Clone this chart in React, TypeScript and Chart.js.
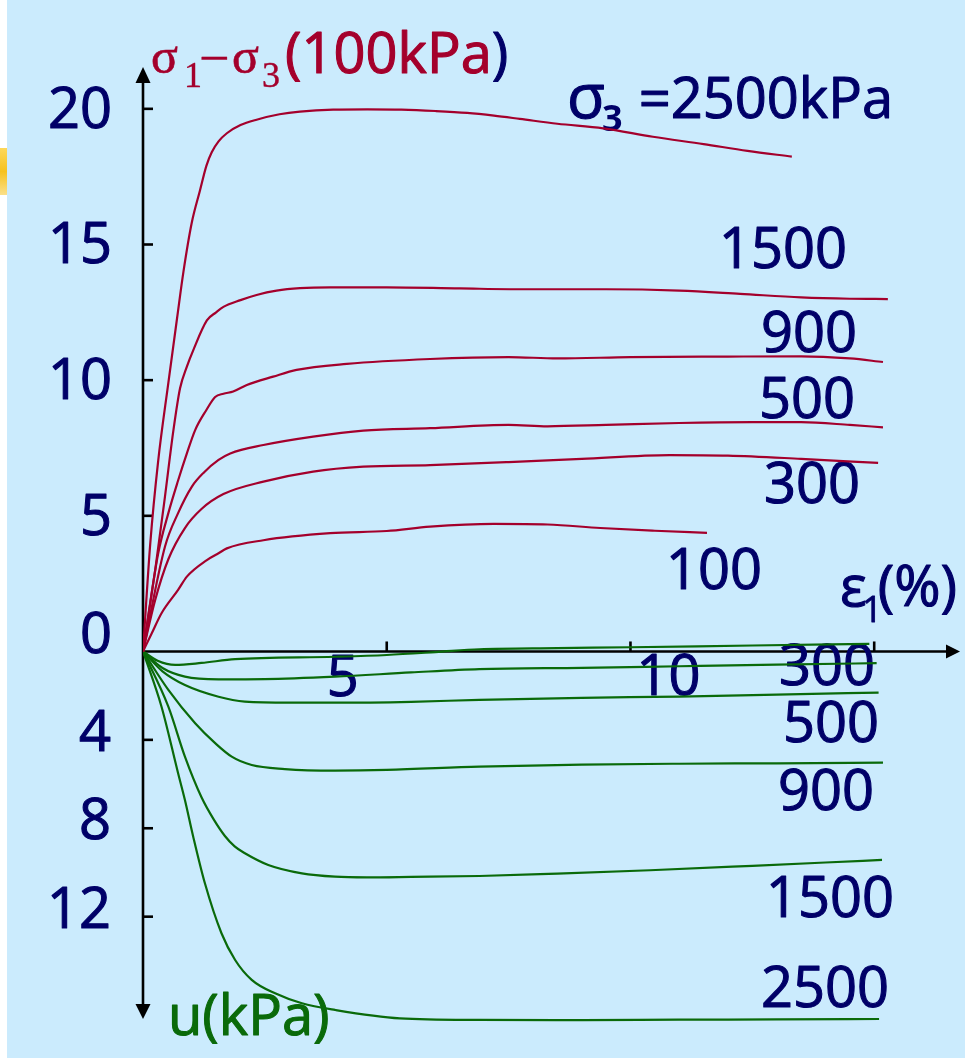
import React, { useEffect, useRef } from "react";
import { Chart, registerables } from "chart.js";

Chart.register(...registerables);

type P = [number, number];

// axis ticks
const strainTicks = [5, 10, 15];
const stressTicks = [20, 15, 10, 5];
const poreTicks = [4, 8, 12];
const strainTickLabels = ["5", "10"];
const stressTickLabels = ["20", "15", "10", "5"];
const poreTickLabels = ["4", "8", "12"];
const upperLabels = ["1500", "900", "500", "300", "100"];
const lowerLabels = ["300", "500", "900", "1500", "2500"];

// deviator stress σ1−σ3 (100 kPa) vs axial strain ε1 (%)
const dev2500: P[] = [[0,0],[0.15,4.0],[0.31,7.0],[0.52,9.9],[0.7,12.3],[0.83,14.0],[1.0,15.8],[1.17,17.0],[1.3,17.9],[1.41,18.4],[1.55,18.8],[1.72,19.1],[2.0,19.4],[2.33,19.6],[2.8,19.8],[3.22,19.9],[3.9,19.97],[4.6,19.98],[5.3,19.97],[6.0,19.92],[6.65,19.85],[7.2,19.75],[7.73,19.63],[8.5,19.45],[9.44,19.28],[10.46,18.97],[11.5,18.7],[12.4,18.45],[13.31,18.24]];
const dev1500: P[] = [[0,0],[0.25,3.0],[0.45,5.7],[0.62,8.1],[0.76,9.7],[0.9,10.5],[1.03,11.1],[1.31,12.2],[1.5,12.5],[1.65,12.7],[2.0,12.95],[2.33,13.14],[2.74,13.3],[3.22,13.39],[3.84,13.42],[5.0,13.42],[6.5,13.38],[8.0,13.35],[9.5,13.35],[11.0,13.3],[12.25,13.18],[13.5,13.05],[14.5,13.0],[15.28,12.99]];
const dev900: P[] = [[0,0],[0.31,3.6],[0.52,5.1],[0.72,6.3],[0.9,7.3],[1.07,8.16],[1.3,8.9],[1.48,9.38],[1.65,9.5],[1.85,9.58],[2.13,9.82],[2.67,10.13],[3.15,10.38],[4.18,10.6],[5.89,10.78],[7.5,10.85],[8.5,10.8],[10.0,10.85],[12.0,10.87],[13.5,10.88],[14.5,10.8],[15.18,10.67]];
const dev500: P[] = [[0,0],[0.45,3.86],[0.72,5.1],[1.0,6.07],[1.25,6.6],[1.55,7.06],[1.79,7.3],[2.47,7.61],[3.49,7.92],[4.52,8.14],[5.89,8.23],[7.5,8.35],[8.3,8.3],[9.5,8.35],[11.0,8.42],[12.5,8.45],[13.5,8.45],[14.5,8.35],[15.18,8.26]];
const dev300: P[] = [[0,0],[0.25,1.9],[0.52,3.4],[0.86,4.55],[1.2,5.25],[1.65,5.8],[2.47,6.26],[3.49,6.63],[4.52,6.81],[5.89,6.87],[7.5,6.98],[9.0,7.1],[10.8,7.24],[12.0,7.22],[13.5,7.1],[15.08,6.95]];
const dev100: P[] = [[0,0],[0.18,0.67],[0.38,1.41],[0.72,2.27],[0.9,2.76],[1.31,3.37],[1.55,3.62],[1.72,3.8],[2.47,4.1],[3.84,4.36],[5.0,4.44],[5.89,4.6],[7.2,4.7],[8.3,4.68],[9.38,4.55],[10.5,4.45],[11.57,4.37]];

// pore pressure u vs axial strain ε1 (%)
const pore100: P[] = [[0,0],[0.3,0.42],[0.66,0.61],[1.2,0.52],[1.89,0.35],[3.94,0.24],[5.0,0.16],[6.0,0.03],[6.9,-0.1],[8.5,-0.15],[10.0,-0.19],[12.5,-0.27],[14.9,-0.34]];
const pore300: P[] = [[0,0],[0.4,0.75],[0.86,1.14],[1.55,1.26],[2.5,1.25],[3.94,1.14],[5.5,0.95],[6.9,0.8],[9.0,0.74],[11.0,0.67],[13.0,0.6],[15.05,0.53]];
const pore500: P[] = [[0,0],[0.4,0.9],[0.86,1.52],[1.55,2.05],[2.09,2.27],[3.0,2.32],[3.94,2.32],[5.5,2.28],[6.9,2.19],[9.0,2.1],[11.0,2.04],[13.0,1.95],[15.09,1.86]];
const pore900: P[] = [[0,0],[0.52,1.74],[1.07,3.25],[1.48,4.15],[1.82,4.76],[2.23,5.14],[2.91,5.32],[3.94,5.39],[5.0,5.36],[6.9,5.21],[9.0,5.12],[11.0,5.08],[13.0,5.06],[15.18,5.03]];
const pore1500: P[] = [[0,0],[0.52,2.5],[0.86,4.76],[1.2,6.6],[1.45,7.6],[1.68,8.35],[1.88,8.82],[2.09,9.13],[2.57,9.66],[3.26,10.04],[3.94,10.19],[4.59,10.22],[5.5,10.2],[6.9,10.16],[8.5,10.05],[10.4,9.9],[12.5,9.7],[14.0,9.55],[15.16,9.43]];
const pore2500: P[] = [[0,0],[0.38,2.5],[0.72,5.51],[0.86,6.72],[1.03,8.38],[1.27,10.49],[1.61,12.75],[1.89,13.96],[2.23,14.86],[2.71,15.47],[3.26,15.92],[3.94,16.22],[5.27,16.6],[6.9,16.67],[9.0,16.68],[11.0,16.66],[13.0,16.65],[15.1,16.63]];

const RED = "#a4002c";
const GREEN = "#0a6a0a";
const NAVY = "#000068";
const SANS = "'Open Sans', 'DejaVu Sans', sans-serif";
const SERIF = "'Liberation Serif', 'DejaVu Serif', serif";

const toXY = (arr: P[]) => arr.map(([x, y]) => ({ x, y }));

const drawPlugin = {
  id: "triaxialDecor",
  beforeDraw(chart: any) {
    const ctx = chart.ctx as CanvasRenderingContext2D;
    ctx.save();
    ctx.fillStyle = "#ffffff";
    ctx.fillRect(0, 0, chart.width, chart.height);
    ctx.fillStyle = "#cbebfd";
    ctx.fillRect(7, 0, chart.width - 7, 1058);
    const g = ctx.createLinearGradient(0, 148, 0, 195);
    g.addColorStop(0, "#fdd85a");
    g.addColorStop(0.5, "#f6c21e");
    g.addColorStop(1, "#fbe08a");
    ctx.fillStyle = g;
    ctx.fillRect(0, 148, 7, 47);
    ctx.restore();
  },
  beforeDatasetsDraw(chart: any) {
    const ctx = chart.ctx as CanvasRenderingContext2D;
    const sx = chart.scales.x;
    const sy = chart.scales.y;
    const su = chart.scales.yu;
    const x0 = sx.getPixelForValue(0);
    const y0 = sy.getPixelForValue(0);
    ctx.save();
    ctx.strokeStyle = "#000";
    ctx.fillStyle = "#000";
    ctx.lineWidth = 2.6;
    const line = (a: number, b: number, c: number, d: number) => {
      ctx.beginPath();
      ctx.moveTo(a, b);
      ctx.lineTo(c, d);
      ctx.stroke();
    };
    const tri = (pts: number[][]) => {
      ctx.beginPath();
      ctx.moveTo(pts[0][0], pts[0][1]);
      ctx.lineTo(pts[1][0], pts[1][1]);
      ctx.lineTo(pts[2][0], pts[2][1]);
      ctx.closePath();
      ctx.fill();
    };
    // axes
    line(x0, 80, x0, 1006);
    line(x0, y0, 948, y0);
    tri([[x0, 67], [x0 - 7.5, 83], [x0 + 7.5, 83]]);
    tri([[x0, 1019], [x0 - 7.5, 1004], [x0 + 7.5, 1004]]);
    tri([[960, y0], [946, y0 - 7], [946, y0 + 7]]);
    // ticks
    stressTicks.forEach((v) => {
      const p = sy.getPixelForValue(v);
      line(x0, p, x0 + 10, p);
    });
    poreTicks.forEach((v) => {
      const p = su.getPixelForValue(v);
      line(x0, p, x0 + 10, p);
    });
    strainTicks.forEach((v) => {
      const p = sx.getPixelForValue(v);
      line(p, y0, p, y0 - 10);
    });

    const text = (t: string, x: number, y: number, font: string, color: string, align: CanvasTextAlign = "left", weight = 1.1) => {
      ctx.font = font;
      ctx.fillStyle = color;
      ctx.strokeStyle = color;
      ctx.lineWidth = weight;
      ctx.lineJoin = "round";
      ctx.textAlign = align;
      ctx.textBaseline = "alphabetic";
      ctx.fillText(t, x, y);
      if (weight > 0) ctx.strokeText(t, x, y);
    };
    const big = `56px ${SANS}`;
    // y tick labels
    stressTickLabels.forEach((t, i) => {
      text(t, 112, sy.getPixelForValue(stressTicks[i]) + 19, big, NAVY, "right");
    });
    text("0", 112, y0 + 2, big, NAVY, "right");
    poreTickLabels.forEach((t, i) => {
      text(t, 111, su.getPixelForValue(poreTicks[i]) + 11, big, NAVY, "right");
    });
    // x tick labels
    text(strainTickLabels[0], sx.getPixelForValue(strainTicks[0]) - 44, y0 + 45, big, NAVY, "center");
    text(strainTickLabels[1], sx.getPixelForValue(strainTicks[1]) + 38, y0 + 44, big, NAVY, "center");

    // title σ1−σ3(100kPa)
    text("σ", 151, 73, `50px ${SERIF}`, RED, "left", 0.6);
    text("1", 184, 87, `36px ${SERIF}`, RED, "left", 0.4);
    text("−", 199, 76, `54px ${SERIF}`, RED, "left", 0.4);
    text("σ", 232, 73, `50px ${SERIF}`, RED, "left", 0.6);
    text("3", 262, 87, `36px ${SERIF}`, RED, "left", 0.4);
    text("(100kPa", 285, 73, big, RED);
    ctx.font = big;
    const w = ctx.measureText("(100kPa").width;
    text(")", 285 + w, 73, big, NAVY);

    // σ3 = 2500kPa
    text("σ", 567, 118, `62px ${SANS}`, NAVY);
    text("3", 602, 131, `bold 36px ${SANS}`, NAVY, "left", 0);
    text("=2500kPa", 893, 118, big, NAVY, "right");

    // upper labels
    const upRight = [845, 855, 853, 858, 760];
    const upBase = [268, 352, 418, 503, 589];
    upperLabels.forEach((t, i) => text(t, upRight[i] + 2, upBase[i], big, NAVY, "right"));
    // lower labels
    const loRight = [873, 877, 872, 892, 887];
    const loBase = [685, 742, 810, 917, 1007];
    lowerLabels.forEach((t, i) => text(t, loRight[i] + 2, loBase[i], big, NAVY, "right"));

    // ε1(%)
    text("ε", 840, 606, big, NAVY);
    text("1", 862, 622, `36px ${SANS}`, NAVY, "left", 0.8);
    text("(%)", 957, 606, big, NAVY, "right");

    // u(kPa)
    text("u(kPa)", 168, 1035, `56px ${SANS}`, GREEN);
    ctx.restore();
  },
};

export default function App() {
  const ref = useRef<HTMLCanvasElement | null>(null);
  useEffect(() => {
    if (!ref.current) return;
    const red = [dev2500, dev1500, dev900, dev500, dev300, dev100];
    const green = [pore100, pore300, pore500, pore900, pore1500, pore2500];
    const datasets: any[] = [
      ...red.map((d) => ({
        data: toXY(d),
        borderColor: RED,
        borderWidth: 2.2,
        pointRadius: 0,
        cubicInterpolationMode: "monotone",
        yAxisID: "y",
        fill: false,
      })),
      ...green.map((d) => ({
        data: toXY(d),
        borderColor: GREEN,
        borderWidth: 2.2,
        pointRadius: 0,
        cubicInterpolationMode: "monotone",
        yAxisID: "yu",
        fill: false,
      })),
    ];
    const chart = new Chart(ref.current, {
      type: "line",
      data: { datasets },
      options: {
        animation: false,
        responsive: false,
        devicePixelRatio: 1,
        layout: { padding: { left: 143, right: 5, top: 60, bottom: 22 } },
        plugins: { legend: { display: false }, tooltip: { enabled: false } },
        scales: {
          x: { type: "linear", min: 0, max: 16.76, display: false },
          y: { type: "linear", min: -14.32, max: 21.8, display: false },
          yu: { type: "linear", min: -26.76, max: 17.58, reverse: true, display: false },
        },
      } as any,
      plugins: [drawPlugin],
    });
    return () => chart.destroy();
  }, []);
  return (
    <div style={{ position: "absolute", left: 0, top: 0, width: 965, height: 1062 }}>
      <canvas ref={ref} width={965} height={1062} style={{ display: "block" }} />
    </div>
  );
}
